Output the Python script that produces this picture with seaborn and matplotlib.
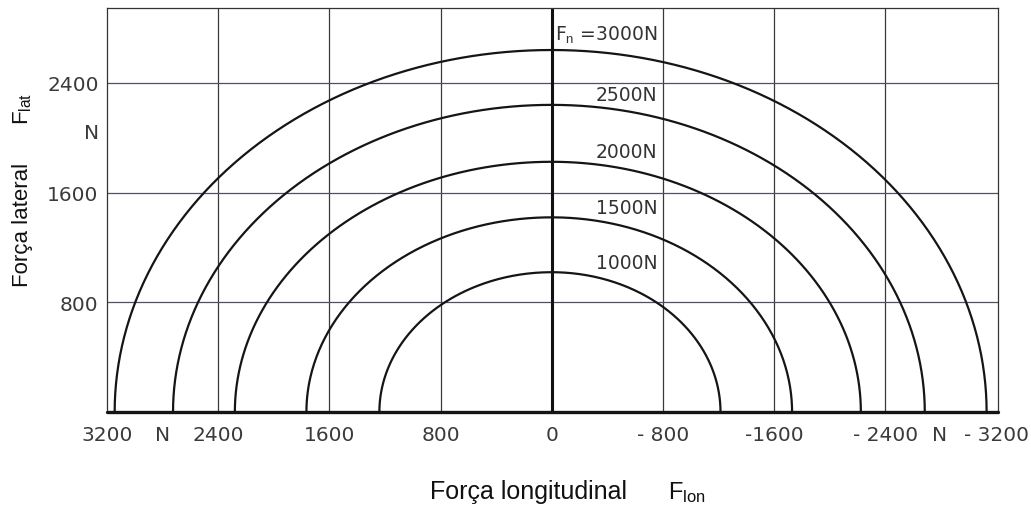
import numpy as np
import pandas as pd
import matplotlib
matplotlib.use("Agg")
import matplotlib.pyplot as plt
import seaborn as sns

# ---- data ----
normal_loads = [1000, 1500, 2000, 2500, 3000]          # F_n (N)
long_max_pos = [1240, 1765, 2280, 2725, 3145]           # intercept on +F_lon side (N)
long_max_neg = [1215, 1730, 2225, 2685, 3130]           # intercept on -F_lon side (N)
lat_max = [1020, 1420, 1825, 2240, 2640]                # peak F_lat (N)
curve_labels = ["1000N", "1500N", "2000N", "2500N", "F$_n$ =3000N"]
label_y = [1091, 1491, 1898, 2313, 2764]

x_ticks = [3200, 2800, 2400, 1600, 800, 0, -800, -1600, -2400, -2790, -3200]
x_ticklabels = ["3200", "N", "2400", "1600", "800", "0", "- 800", "-1600", "- 2400", "N", "- 3200"]
x_grid = [2400, 1600, 800, -800, -1600, -2400]
y_ticks = [800, 1600, 2050, 2400]
y_ticklabels = ["800", "1600", "N", "2400"]
y_grid = [800, 1600, 2400]

# ---- build curve table (half ellipses) ----
rows = []
theta = np.linspace(0, np.pi, 361)
for fn, ap, an, b in zip(normal_loads, long_max_pos, long_max_neg, lat_max):
    a = np.where(theta <= np.pi / 2, ap, an)
    for t, aa in zip(theta, a):
        rows.append({"Fn": fn, "x": aa * np.cos(t), "y": b * np.sin(t), "t": t})
df = pd.DataFrame(rows)

sns.set_theme(style="white")
plt.rcParams["font.family"] = ["Liberation Sans", "DejaVu Sans"]
plt.rcParams["mathtext.fontset"] = "custom"
plt.rcParams["mathtext.rm"] = "Liberation Sans"
plt.rcParams["mathtext.it"] = "Liberation Sans"

fig = plt.figure(figsize=(10.31, 5.10), dpi=100)
ax = fig.add_axes([0.1038, 0.190, 0.8642, 0.792])

gridc = "#3a3a3a"
for gx in x_grid:
    ax.axvline(gx, color=gridc, lw=0.9, zorder=1)
for gy in y_grid:
    ax.axhline(gy, color="#505060", lw=0.9, zorder=1)
ax.axvline(0, color="#111111", lw=2.2, zorder=2)

for fn in normal_loads:
    sub = df[df["Fn"] == fn]
    sns.lineplot(data=sub, x="x", y="y", sort=False, estimator=None,
                 color="#151515", lw=1.6, ax=ax, zorder=3)

ax.axhline(0, color="#151515", lw=2.4, zorder=4, clip_on=False)

tick_font = ["Liberation Sans Narrow", "DejaVu Sans"]
for lab, ly in zip(curve_labels, label_y):
    ax.text(-760, ly, lab, ha="right", va="center", fontsize=13.5,
            color="#333333", family=tick_font)

ax.set_xlim(3180, -3212)
ax.set_ylim(0, 2945)
ax.set_xticks(x_ticks)
ax.set_xticklabels(x_ticklabels, family=tick_font, fontsize=14.5, color="#3a3a3a")
ax.set_yticks(y_ticks)
ax.set_yticklabels(y_ticklabels, family=tick_font, fontsize=14.5, color="#3a3a3a")
ax.tick_params(axis="x", length=0, pad=9)
ax.tick_params(axis="y", length=0, pad=6)
ax.set_xlabel("")
ax.set_ylabel("")
for side in ["left", "right", "top"]:
    ax.spines[side].set_color("#333333")
    ax.spines[side].set_linewidth(0.9)
ax.spines["bottom"].set_visible(False)

fig.text(0.513, 0.035, "Força longitudinal", ha="center", va="center", fontsize=18, color="#111111")
fig.text(0.666, 0.035, "F$_{\\mathrm{lon}}$", ha="center", va="center", fontsize=17, color="#111111")
fig.text(0.022, 0.559, "Força lateral", ha="center", va="center", fontsize=16, rotation=90, color="#111111")
fig.text(0.022, 0.786, "F$_{\\mathrm{lat}}$", ha="center", va="center", fontsize=16, rotation=90, color="#111111")

fig.savefig("out.png", dpi=100)
